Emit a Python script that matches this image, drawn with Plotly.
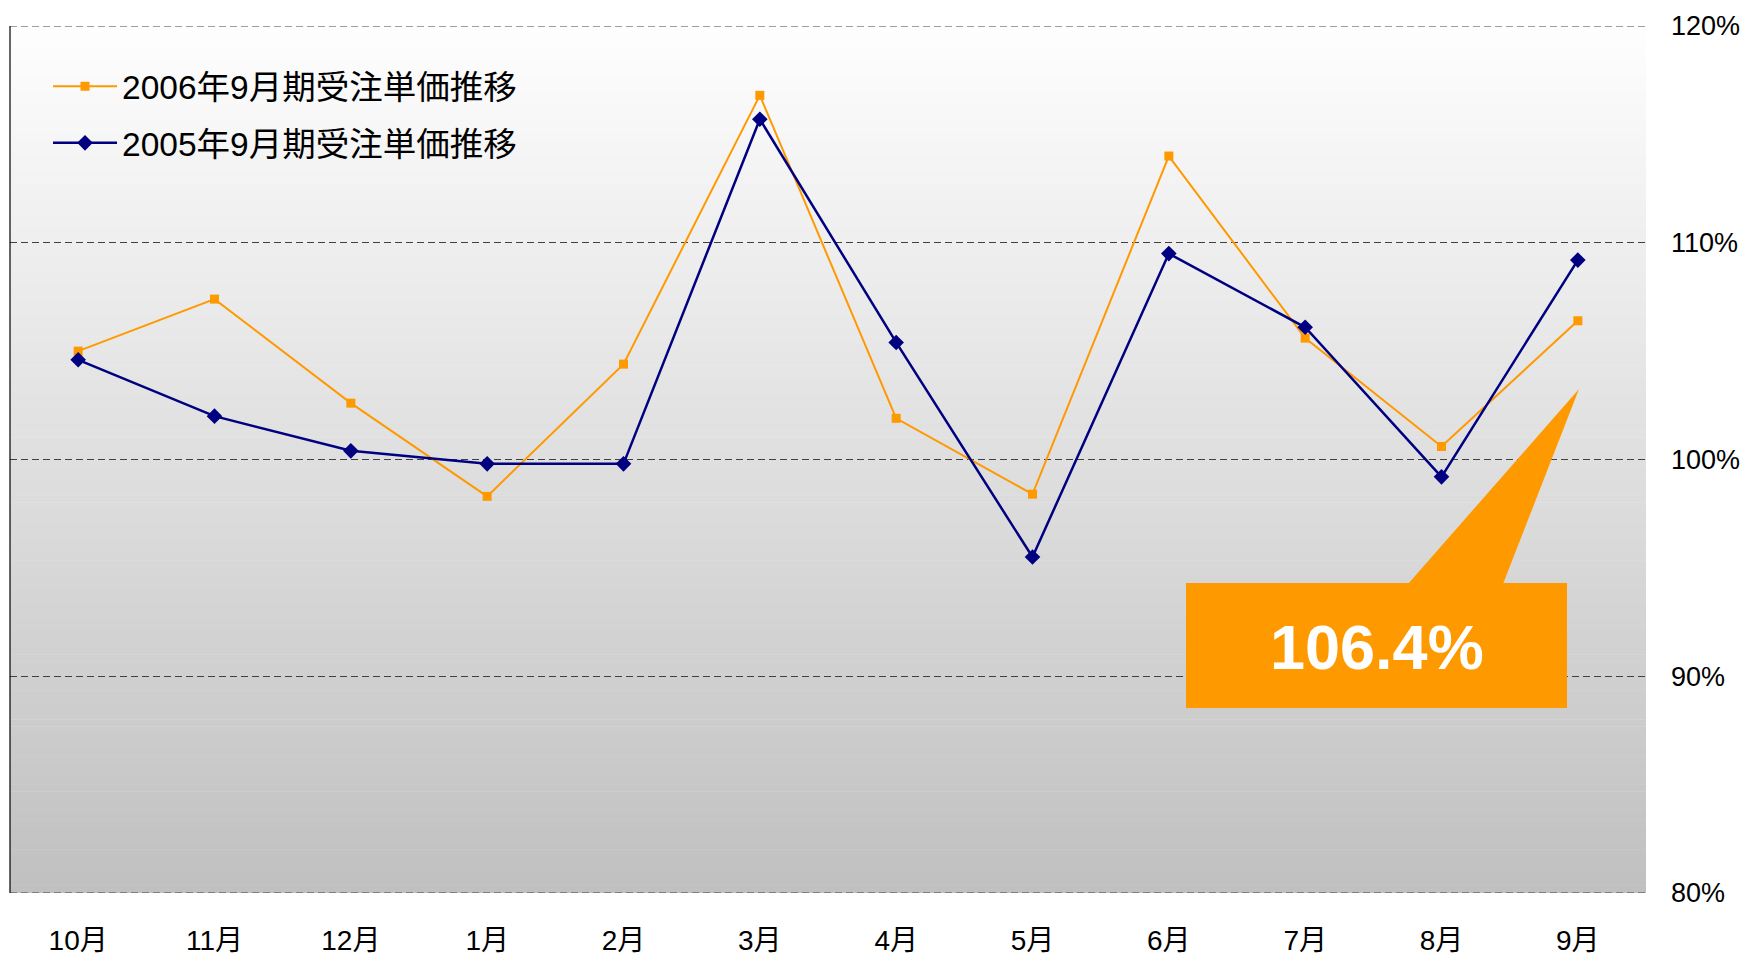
import plotly.graph_objects as go

months = ["10月", "11月", "12月", "1月", "2月", "3月", "4月", "5月", "6月", "7月", "8月", "9月"]
s2006 = [105.0, 107.4, 102.6, 98.3, 104.4, 116.8, 101.9, 98.4, 114.0, 105.6, 100.6, 106.4]
s2005 = [104.6, 102.0, 100.4, 99.8, 99.8, 115.7, 105.4, 95.5, 109.5, 106.1, 99.2, 109.2]
name2006 = "2006年9月期受注単価推移"
name2005 = "2005年9月期受注単価推移"
y_ticks = [80, 90, 100, 110, 120]
y_ticktext = ["%d%%" % v for v in y_ticks]

# page body has an 8px default margin; figure sized to fit the window
OFF = 8
W, H = 1748 - OFF, 956 - OFF
# plot area in window pixels: x 10..1646, y 26..893
ML, MT = 10 - OFF, 26 - OFF
MR, MB = W - (1646 - OFF), H - (893 - OFF)
PW, PH = W - ML - MR, H - MT - MB

FONT = "Arial, 'Liberation Sans', 'Noto Sans CJK JP', sans-serif"
ORANGE = "#FF9900"
NAVY = "#000080"
GRID = "#404040"
DASH = "7px,4px"


def px(x):
    return (x - OFF - ML) / PW


def py(y):
    return (H - MB - (y - OFF)) / PH


fig = go.Figure()
fig.add_trace(go.Scatter(
    x=months, y=s2006, name=name2006, mode="lines+markers",
    line=dict(color=ORANGE, width=2),
    marker=dict(symbol="square", size=9, color=ORANGE),
    legendgroup="a",
))
fig.add_trace(go.Scatter(
    x=months, y=s2005, name=name2005, mode="lines+markers",
    line=dict(color=NAVY, width=2.5),
    marker=dict(symbol="diamond", size=12, color=NAVY),
    legendgroup="b",
))

shapes = []
# vertical gradient background (white -> silver)
N = 120
top = (254, 254, 254)
bot = (192, 192, 192)
for i in range(N):
    t = (i + 0.5) / N
    c = tuple(round(top[k] + (bot[k] - top[k]) * t) for k in range(3))
    shapes.append(dict(
        type="rect", xref="paper", yref="paper",
        x0=0, x1=1, y0=1 - (i + 1) / N, y1=1 - i / N + 0.0005,
        fillcolor="rgb(%d,%d,%d)" % c, line=dict(width=0), layer="below",
    ))
# gridlines at the range ends (plotly drops them at the plot edges)
for v in (y_ticks[0], y_ticks[-1]):
    shapes.append(dict(type="line", xref="paper", yref="y", x0=0, x1=1, y0=v, y1=v,
                       line=dict(color=GRID, width=1, dash=DASH), layer="below"))
# left border line
shapes.append(dict(type="line", xref="paper", yref="paper", x0=0, x1=0, y0=0, y1=1,
                   line=dict(color="#000000", width=1.2), layer="above"))
# callout box + pointer
shapes.append(dict(type="rect", xref="paper", yref="paper",
                   x0=px(1186), x1=px(1567), y0=py(708), y1=py(583),
                   fillcolor=ORANGE, line=dict(width=0), layer="above"))
path = "M %f,%f L %f,%f L %f,%f Z" % (px(1408), py(584), px(1503), py(584), px(1579), py(389))
shapes.append(dict(type="path", xref="paper", yref="paper", path=path,
                   fillcolor=ORANGE, line=dict(width=0), layer="above"))

fig.update_layout(
    width=W, height=H,
    margin=dict(l=ML, r=MR, t=MT, b=MB, pad=0, autoexpand=False),
    paper_bgcolor="white",
    plot_bgcolor="rgba(0,0,0,0)",
    font=dict(family=FONT, color="black"),
    showlegend=True,
    legend=dict(
        x=px(48), y=py(58), xanchor="left", yanchor="top",
        bgcolor="rgba(0,0,0,0)", borderwidth=0,
        font=dict(size=33.5, family=FONT, color="black"),
        tracegroupgap=10, itemwidth=64,
    ),
    shapes=shapes,
    annotations=[dict(
        xref="paper", yref="paper", x=px(1377), y=py(647),
        xanchor="center", yanchor="middle",
        text="<b>%.1f%%</b>" % s2006[-1], showarrow=False,
        font=dict(size=63, color="white", family=FONT),
    )],
    xaxis=dict(
        type="category", range=[-0.5, len(months) - 0.5],
        showgrid=False, showline=False, zeroline=False, ticks="",
        tickfont=dict(size=28, family=FONT, color="black"),
        ticklabelstandoff=28, fixedrange=True, automargin=False,
    ),
    yaxis=dict(
        side="right", range=[80, 120], tickvals=y_ticks, ticktext=y_ticktext,
        showgrid=True, gridcolor=GRID, gridwidth=1, griddash=DASH,
        showline=False, zeroline=False, ticks="",
        tickfont=dict(size=27, family=FONT, color="black"),
        ticklabelstandoff=24, fixedrange=True, automargin=False,
    ),
)

fig.write_html("out.html")
